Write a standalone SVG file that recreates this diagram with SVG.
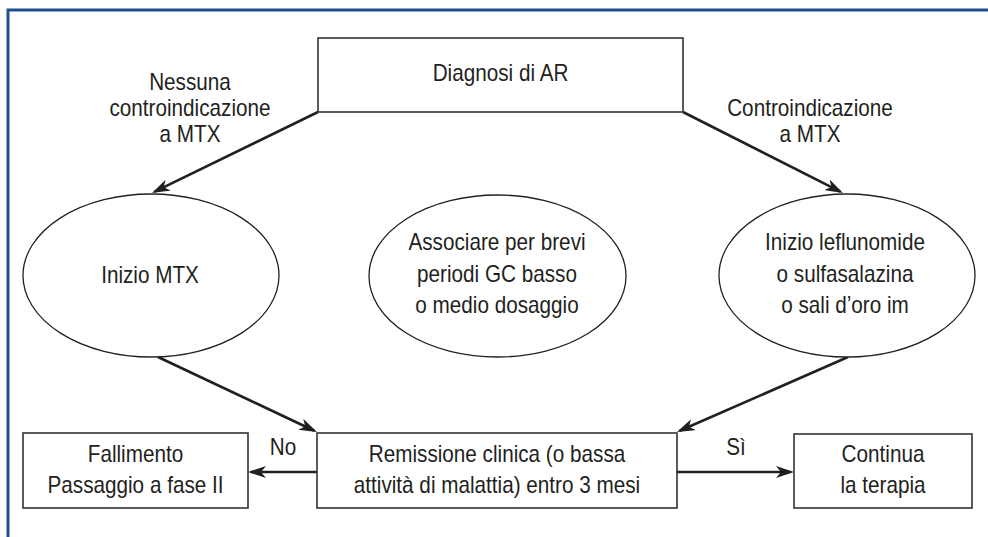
<svg xmlns="http://www.w3.org/2000/svg" width="988" height="537" viewBox="0 0 988 537">
<defs>
<marker id="arr" viewBox="0 0 18 12" markerWidth="18" markerHeight="12" refX="15" refY="6" orient="auto" markerUnits="userSpaceOnUse">
<path d="M0,0 L18,6 L0,12 L5,6 Z" fill="#231f20"/>
</marker>
<style>
text{font-family:"Liberation Sans",Arial,sans-serif;font-size:23px;fill:#231f20;text-anchor:middle}
.box{fill:#fff;stroke:#333;stroke-width:1.6}
.ell{fill:#fff;stroke:#231f20;stroke-width:1.3}
.con{stroke:#231f20;stroke-width:2.6;fill:none;marker-end:url(#arr)}
.frame{stroke:#1f4f8f;stroke-width:3;fill:none}
</style>
</defs>
<rect width="988" height="537" fill="#fff"/>
<path class="frame" d="M8,537 L8,10 L988,10"/>

<g id="connectors">
<line class="con" x1="318" y1="112" x2="154.7" y2="191.7"/>
<line class="con" x1="683" y1="112" x2="840.3" y2="191.6"/>
<line class="con" x1="158" y1="357" x2="314.3" y2="430.7"/>
<line class="con" x1="848" y1="357" x2="679.7" y2="430.8"/>
<line class="con" x1="317" y1="472" x2="251" y2="472"/>
<line class="con" x1="677" y1="472" x2="791" y2="472"/>
<text transform="translate(190,90) scale(0.9,1)">Nessuna</text>
<text transform="translate(190,116) scale(0.9,1)">controindicazione</text>
<text transform="translate(190,142) scale(0.9,1)">a MTX</text>
<text transform="translate(810,116) scale(0.9,1)">Controindicazione</text>
<text transform="translate(810,142) scale(0.9,1)">a MTX</text>
<text transform="translate(283,455) scale(0.9,1)">No</text>
<text transform="translate(736,455) scale(0.9,1)">Sì</text>
</g>

<g id="diagnosi">
<rect class="box" x="318" y="38" width="365" height="74"/>
<text transform="translate(500.5,81) scale(0.9,1)">Diagnosi di AR</text>
</g>

<g id="inizio-mtx">
<ellipse class="ell" cx="151" cy="275.5" rx="128" ry="81.5"/>
<text transform="translate(150,283) scale(0.9,1)">Inizio MTX</text>
</g>

<g id="associare">
<ellipse class="ell" cx="497.5" cy="276" rx="128.5" ry="81"/>
<text transform="translate(497,250) scale(0.9,1)">Associare per brevi</text>
<text transform="translate(497,282) scale(0.9,1)">periodi GC basso</text>
<text transform="translate(497,313) scale(0.9,1)">o medio dosaggio</text>
</g>

<g id="inizio-leflunomide">
<ellipse class="ell" cx="847" cy="275.5" rx="128" ry="81.5"/>
<text transform="translate(845,250) scale(0.9,1)">Inizio leflunomide</text>
<text transform="translate(845,282) scale(0.9,1)">o sulfasalazina</text>
<text transform="translate(845,313) scale(0.9,1)">o sali d’oro im</text>
</g>

<g id="remissione">
<rect class="box" x="317" y="433" width="360" height="75"/>
<text transform="translate(497,462) scale(0.9,1)">Remissione clinica (o bassa</text>
<text transform="translate(497,493) scale(0.9,1)">attività di malattia) entro 3 mesi</text>
</g>

<g id="fallimento">
<rect class="box" x="23" y="433" width="225" height="75"/>
<text transform="translate(135.5,462) scale(0.9,1)">Fallimento</text>
<text transform="translate(135.5,493) scale(0.9,1)">Passaggio a fase II</text>
</g>

<g id="continua">
<rect class="box" x="794" y="434" width="178" height="74"/>
<text transform="translate(883,462) scale(0.9,1)">Continua</text>
<text transform="translate(883,493) scale(0.9,1)">la terapia</text>
</g>
</svg>
